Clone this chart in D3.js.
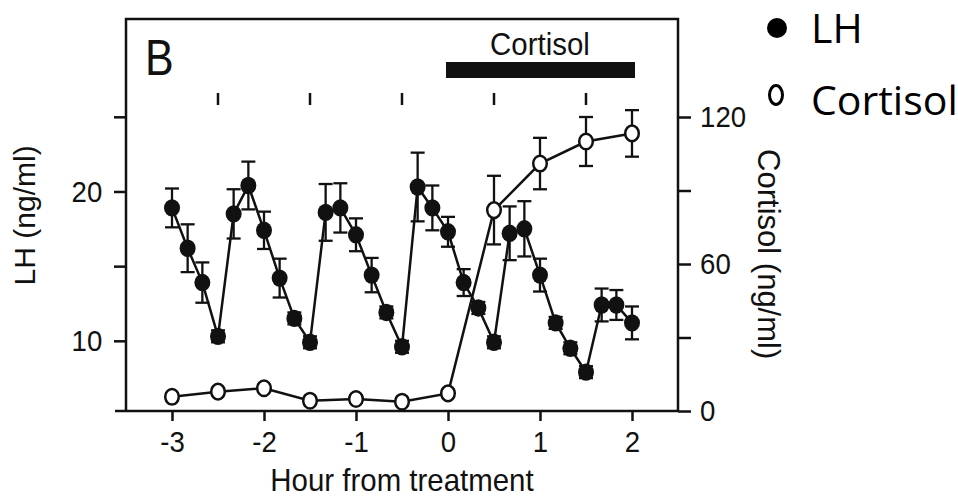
<!DOCTYPE html>
<html>
<head>
<meta charset="utf-8">
<script src="https://cdnjs.cloudflare.com/ajax/libs/d3/7.8.5/d3.min.js"></script>
<style>
  body { margin: 0; background: #fff; }
  svg { display: block; }
</style>
</head>
<body>
<svg id="chart"></svg>
<script>
// LH, sampled every 10 min
var lhHours = [-3, -2.83, -2.67, -2.5, -2.33, -2.17, -2, -1.83, -1.67, -1.5, -1.33, -1.17, -1, -0.83, -0.67, -0.5,
               -0.33, -0.17, 0, 0.17, 0.33, 0.5, 0.67, 0.83, 1, 1.17, 1.33, 1.5, 1.67, 1.83, 2];
var lhValues = [18.9, 16.2, 13.9, 10.3, 18.5, 20.4, 17.4, 14.2, 11.5, 9.9, 18.6, 18.9, 17.1, 14.4, 11.9, 9.6,
                20.3, 18.9, 17.3, 13.9, 12.2, 9.9, 17.2, 17.5, 14.4, 11.2, 9.5, 7.9, 12.4, 12.4, 11.2];
var lhSem = [1.3, 1.6, 1.35, 0.4, 1.65, 1.6, 1.25, 1.3, 0.4, 0.4, 1.9, 1.65, 1.1, 1.15, 0.4, 0.4,
             2.3, 1.5, 1.0, 0.9, 0.4, 0.4, 1.8, 1.85, 1.1, 0.4, 0.4, 0.4, 1.1, 1.0, 1.1];

// cortisol, every 30 min
var cortHours = [-3, -2.5, -2, -1.5, -1, -0.5, 0, 0.5, 1, 1.5, 2];
var cortValues = [5.8, 7.9, 9.3, 4.2, 4.9, 3.8, 7.2, 82, 101, 110, 113.3];
var cortSem = [1.5, 1.5, 1.5, 1.5, 1.5, 1.5, 1.5, 14, 10.5, 10, 9.5];

var pulseHours = [-2.5, -1.5, -0.5, 0.5, 1.5];
var treatment = [0, 2];

var xTicks = [-3, -2, -1, 0, 1, 2];
var lhTicks = [10, 15, 20, 25];
var lhLabels = [10, 20];
var cortTicks = [0, 30, 60, 90, 120];
var cortLabels = [0, 60, 120];

var width = 958, height = 503;
// note: "top" is taken by window.top, so plot edges get their own names
var pLeft = 126, pRight = 678, pTop = 19, pBottom = 411;
var sx = 0.92; // original figure is squeezed sideways a little
var font = "Arial, 'Liberation Sans', sans-serif";
var ink = "#111";

var svg = d3.select("#chart")
  .attr("width", width)
  .attr("height", height);

var x = d3.scaleLinear().domain([-3.5, 2.5]).range([pLeft, pRight]);
var yLH = d3.scaleLinear().domain([5.3, 31.55]).range([pBottom, pTop]);
var yCort = d3.scaleLinear().domain([0, 160]).range([pBottom, pTop]);

function styleAxis(g) {
  g.select(".domain").remove();
  g.selectAll(".tick line").attr("stroke", ink).attr("stroke-width", 2.5);
  g.selectAll(".tick text")
    .attr("fill", ink)
    .style("font-size", "30px")
    .style("font-family", font)
    .attr("transform", "scale(" + sx + ",1)");
}

// bottom axis
svg.append("g")
  .attr("transform", "translate(0," + pBottom + ")")
  .call(d3.axisBottom(x).tickValues(xTicks).tickSize(10).tickPadding(10)
    .tickFormat(function(d) { return String(d); }))
  .call(styleAxis);

// left axis (LH)
svg.append("g")
  .attr("transform", "translate(" + pLeft + ",0)")
  .call(d3.axisLeft(yLH).tickValues(lhTicks).tickSize(12).tickPadding(13.8)
    .tickFormat(function(d) { return lhLabels.indexOf(d) >= 0 ? String(d) : ""; }))
  .call(styleAxis);

// right axis (cortisol)
svg.append("g")
  .attr("transform", "translate(" + pRight + ",0)")
  .call(d3.axisRight(yCort).tickValues(cortTicks).tickSize(13).tickPadding(11)
    .tickFormat(function(d) { return cortLabels.indexOf(d) >= 0 ? String(d) : ""; }))
  .call(styleAxis);

// frame
svg.append("path")
  .attr("d", "M" + pLeft + "," + pBottom + "V" + pTop + "H" + pRight + "V" + pBottom)
  .attr("fill", "none")
  .attr("stroke", ink)
  .attr("stroke-width", 2.5);
svg.append("line")
  .attr("x1", pLeft - 11).attr("x2", pRight)
  .attr("y1", pBottom).attr("y2", pBottom)
  .attr("stroke", ink)
  .attr("stroke-width", 2.5);

function label(txt, px, py, size, anchor, scale) {
  return svg.append("text")
    .attr("transform", "translate(" + px + "," + py + ") scale(" + (scale || sx) + ",1)")
    .attr("text-anchor", anchor)
    .attr("fill", ink)
    .style("font-size", size + "px")
    .style("font-family", font)
    .text(txt);
}

label("B", 145, 75, 50, "start", 0.86);
label("Hour from treatment", x(-0.5), 491, 32, "middle");

svg.append("text")
  .attr("transform", "translate(35," + yLH(18.4) + ") rotate(-90)")
  .attr("text-anchor", "middle")
  .attr("fill", ink)
  .style("font-size", "30px")
  .style("font-family", font)
  .text("LH (ng/ml)");

svg.append("text")
  .attr("transform", "translate(758," + yCort(64) + ") rotate(90)")
  .attr("text-anchor", "middle")
  .attr("fill", ink)
  .style("font-size", "31px")
  .style("font-family", font)
  .text("Cortisol (ng/ml)");

// treatment bar
svg.append("rect")
  .attr("x", x(treatment[0]) - 2)
  .attr("y", pTop + 43)
  .attr("width", x(treatment[1]) - x(treatment[0]) + 5)
  .attr("height", 16)
  .attr("fill", ink);
label("Cortisol", x((treatment[0] + treatment[1]) / 2), pTop + 36, 32, "middle");

// pulse markers
svg.selectAll(".pulse")
  .data(pulseHours)
  .enter().append("line")
  .attr("class", "pulse")
  .attr("x1", function(d) { return x(d); })
  .attr("x2", function(d) { return x(d); })
  .attr("y1", pTop + 74)
  .attr("y2", pTop + 86)
  .attr("stroke", ink)
  .attr("stroke-width", 2.5);

var lh = lhHours.map(function(h, i) { return { h: h, v: lhValues[i], s: lhSem[i] }; });
var cort = cortHours.map(function(h, i) { return { h: h, v: cortValues[i], s: cortSem[i] }; });

function drawSeries(data, y, cls) {
  var g = svg.append("g").attr("class", cls);
  g.append("path")
    .datum(data)
    .attr("d", d3.line().x(function(d) { return x(d.h); }).y(function(d) { return y(d.v); }))
    .attr("fill", "none")
    .attr("stroke", ink)
    .attr("stroke-width", 2.5);
  var bars = g.selectAll(".err")
    .data(data)
    .enter().append("g")
    .attr("class", "err")
    .attr("stroke", ink)
    .attr("stroke-width", 2.3);
  bars.append("line")
    .attr("x1", function(d) { return x(d.h); })
    .attr("x2", function(d) { return x(d.h); })
    .attr("y1", function(d) { return y(d.v - d.s); })
    .attr("y2", function(d) { return y(d.v + d.s); });
  [-1, 1].forEach(function(sign) {
    bars.append("line")
      .attr("x1", function(d) { return x(d.h) - 7; })
      .attr("x2", function(d) { return x(d.h) + 7; })
      .attr("y1", function(d) { return y(d.v + sign * d.s); })
      .attr("y2", function(d) { return y(d.v + sign * d.s); });
  });
  return g;
}

var lhG = drawSeries(lh, yLH, "lh");
var cortG = drawSeries(cort, yCort, "cort");

lhG.selectAll(".dot")
  .data(lh)
  .enter().append("ellipse")
  .attr("class", "dot")
  .attr("cx", function(d) { return x(d.h); })
  .attr("cy", function(d) { return yLH(d.v); })
  .attr("rx", 8)
  .attr("ry", 8.7)
  .attr("fill", ink);

cortG.selectAll(".dot")
  .data(cort)
  .enter().append("ellipse")
  .attr("class", "dot")
  .attr("cx", function(d) { return x(d.h); })
  .attr("cy", function(d) { return yCort(d.v); })
  .attr("rx", 6.8)
  .attr("ry", 7.8)
  .attr("fill", "#fff")
  .attr("stroke", ink)
  .attr("stroke-width", 2.5);

// legend
var legendFont = "'Open Sans', 'Noto Sans', sans-serif";
svg.append("circle")
  .attr("cx", 777).attr("cy", 28).attr("r", 10)
  .attr("fill", "#000");
svg.append("ellipse")
  .attr("cx", 776).attr("cy", 95).attr("rx", 6.5).attr("ry", 9.5)
  .attr("fill", "none")
  .attr("stroke", "#000")
  .attr("stroke-width", 3);
svg.append("text")
  .attr("x", 811).attr("y", 43)
  .style("font-size", "41px")
  .style("font-family", legendFont)
  .text("LH");
svg.append("text")
  .attr("x", 811).attr("y", 115)
  .style("font-size", "41px")
  .style("font-family", legendFont)
  .text("Cortisol");
</script>
</body>
</html>
